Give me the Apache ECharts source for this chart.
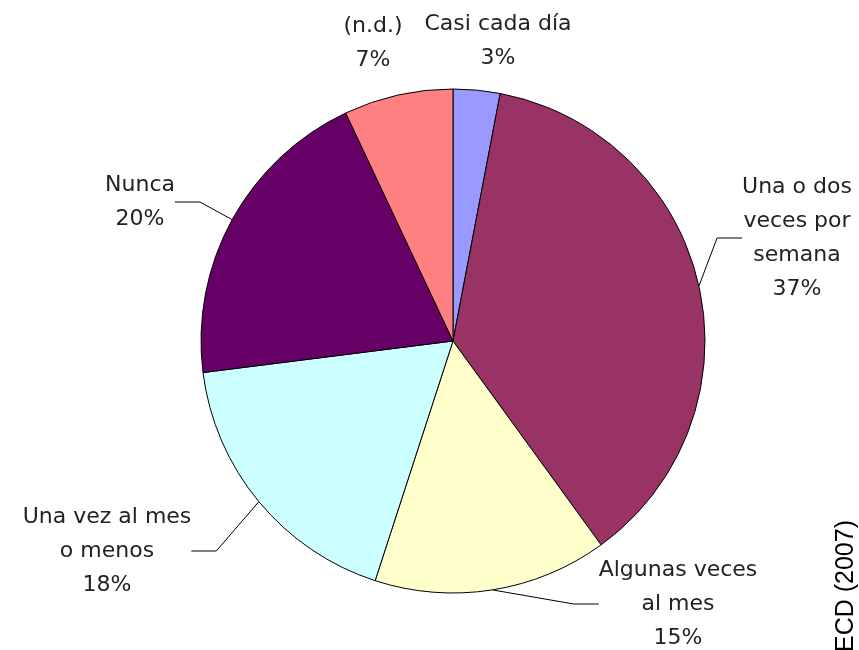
<!DOCTYPE html>
<html>
<head>
<meta charset="utf-8">
<script src="https://cdn.jsdelivr.net/npm/echarts@6/dist/echarts.min.js"></script>
<style>
  html, body { margin: 0; padding: 0; background: #fff; }
  #app { width: 859px; height: 650px; }
</style>
</head>
<body>
<div id="app"></div>
<script>
    // categorias y valores (%)
    var categories = ['Casi cada día', 'Una o dos\nveces por\nsemana', 'Algunas veces\nal mes', 'Una vez al mes\no menos', 'Nunca', '(n.d.)'];
    var values = [3, 37, 15, 18, 20, 7];
    var colors = ['#9999ff', '#993366', '#ffffcc', '#ccffff', '#660066', '#ff8080'];
    var showLine = [false, true, true, true, true, false];
    var labelPos = [[498, 41], [797, 238], [678, 604], [107, 551], [140, 202], [373, 43]];

    var data = categories.map(function (name, i) {
        return {
            name: name,
            value: values[i],
            itemStyle: {color: colors[i]},
            labelLine: {show: showLine[i]}
        };
    });

    var myChart = echarts.init(document.getElementById('app'));
    myChart.setOption({
        animation: false,
        graphic: [{
            type: 'text',
            x: 846,
            y: 586,
            rotation: Math.PI / 2,
            style: {
                text: 'ECD (2007)',
                font: '25px "Liberation Sans", Arial',
                fill: '#000',
                align: 'center',
                verticalAlign: 'middle'
            }
        }],
        series: [{
            type: 'pie',
            center: [453, 341],
            radius: 252,
            startAngle: 90,
            clockwise: true,
            data: data,
            itemStyle: {borderColor: '#000', borderWidth: 1},
            label: {
                show: true,
                position: 'outside',
                formatter: '{b}\n{d}%',
                fontFamily: 'DejaVu Sans',
                fontSize: 22,
                lineHeight: 34,
                color: '#222',
                align: 'center',
                overflow: 'none'
            },
            labelLine: {
                length: 20,
                length2: 25,
                lineStyle: {color: '#000', width: 1}
            },
            labelLayout: function (params) {
                var p = labelPos[params.dataIndex];
                return {x: p[0], y: p[1], align: 'center', verticalAlign: 'middle'};
            }
        }]
    });
</script>
</body>
</html>
